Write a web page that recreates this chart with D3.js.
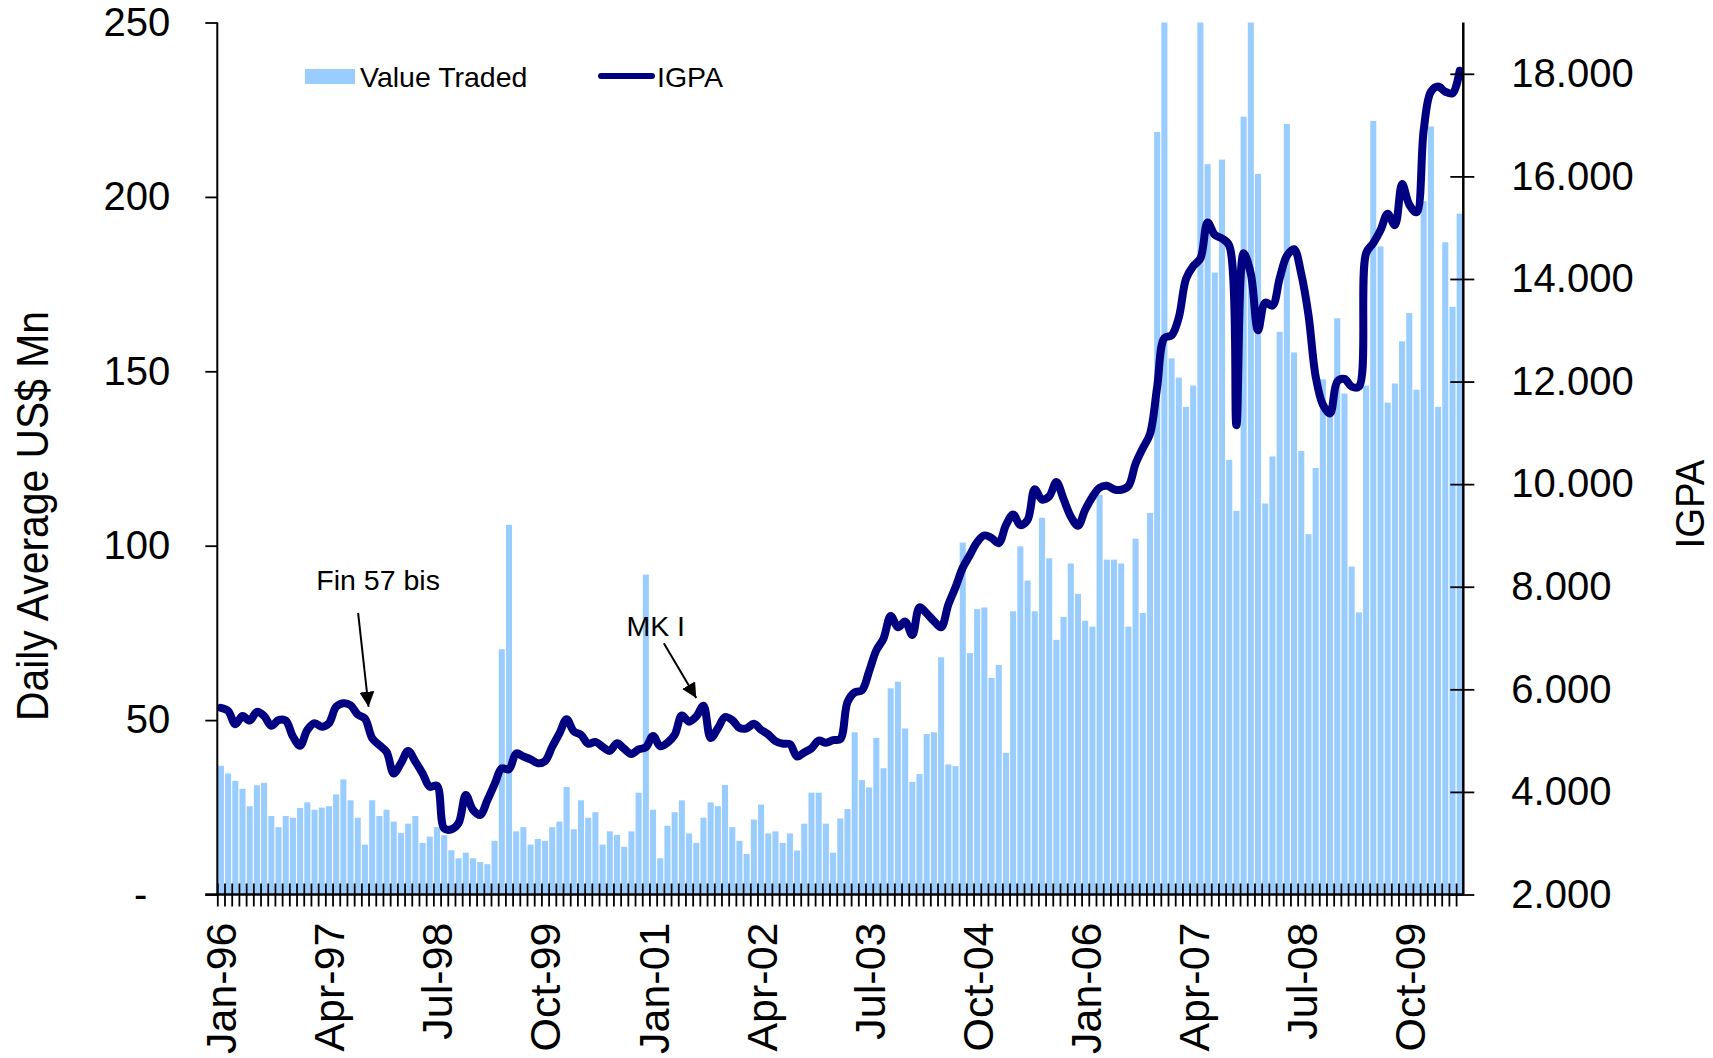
<!DOCTYPE html>
<html>
<head>
<meta charset="utf-8">
<script src="https://cdn.jsdelivr.net/npm/d3@7"></script>
<style>
  body { margin: 0; background: #fff; }
  svg { display: block; }
  text { font-family: "Liberation Sans", Arial, sans-serif; fill: #000; }
</style>
</head>
<body>
<div id="chart"></div>
<script>
// Monthly data, Jan-96 .. May-10
const startMonth = new Date(1996, 0, 1);
const monthCount = 173;
const xTickLabels = ['Jan-96', 'Apr-97', 'Jul-98', 'Oct-99', 'Jan-01', 'Apr-02',
                     'Jul-03', 'Oct-04', 'Jan-06', 'Apr-07', 'Jul-08', 'Oct-09'];
const leftTicks = [0, 50, 100, 150, 200, 250];
const rightTicks = [2000, 4000, 6000, 8000, 10000, 12000, 14000, 16000, 18000];

// Daily average value traded, US$ Mn
const valueTraded = [
  36.9, 34.7, 32.6, 30.3, 25.3, 31.3, 32.0, 22.5, 19.3, 22.5,
  22.0, 24.8, 26.4, 24.3, 24.9, 25.3, 28.7, 33.0, 27.0, 22.0,
  14.3, 27.0, 22.5, 24.3, 20.9, 17.6, 20.3, 22.5, 14.8, 16.6,
  19.3, 17.0, 12.7, 10.4, 12.0, 10.4, 9.3, 8.7, 15.4, 70.3,
  106.0, 18.1, 19.3, 14.3, 15.9, 15.4, 19.3, 20.9, 30.8, 18.7,
  27.0, 22.0, 23.6, 14.3, 18.1, 17.1, 13.7, 18.1, 29.2, 91.7,
  24.3, 10.4, 19.7, 23.6, 27.0, 17.5, 14.8, 22.0, 26.4, 25.3,
  31.4, 19.3, 15.4, 11.6, 21.5, 25.8, 17.5, 18.1, 14.8, 17.5,
  12.6, 20.3, 29.2, 29.2, 20.3, 12.0, 21.8, 24.5, 46.5, 32.8,
  30.7, 44.9, 36.2, 59.1, 61.0, 47.6, 32.3, 34.5, 46.0, 46.5,
  68.0, 37.3, 36.8, 100.9, 69.2, 81.8, 82.3, 62.1, 65.8, 40.6,
  81.2, 99.8, 90.0, 81.2, 108.0, 96.4, 73.0, 79.6, 94.9, 86.2,
  78.5, 76.8, 114.6, 96.0, 96.0, 94.9, 76.8, 102.0, 80.7, 109.4,
  218.6, 270.0, 153.7, 148.2, 139.8, 145.9, 265.0, 209.4, 178.3, 210.7,
  124.6, 110.0, 223.0, 262.0, 206.6, 112.1, 125.6, 161.3, 220.9, 155.4,
  127.2, 103.3, 122.3, 147.7, 138.7, 165.2, 143.6, 94.0, 80.9, 145.9,
  221.8, 185.8, 141.0, 146.5, 158.6, 166.7, 144.7, 198.8, 220.2, 139.8,
  187.0, 168.5, 195.2
];

// IGPA index level
const igpa = [
  5640, 5580, 5320, 5480, 5390, 5560, 5480, 5290, 5400, 5390,
  5080, 4900, 5210, 5340, 5270, 5340, 5660, 5730, 5690, 5510,
  5430, 5050, 4910, 4780, 4360, 4560, 4800, 4590, 4360, 4100,
  4120, 3290, 3270, 3390, 3940, 3650, 3550, 3840, 4150, 4460,
  4440, 4750, 4690, 4635, 4560, 4600, 4880, 5140, 5415, 5180,
  5110, 4940, 4975, 4880, 4800, 4950, 4840, 4740, 4830, 4870,
  5090, 4890, 4960, 5110, 5490, 5370, 5470, 5680, 5050, 5240,
  5460, 5400, 5250, 5240, 5330, 5210, 5120, 4990, 4940, 4930,
  4690, 4770, 4850, 5000, 4960, 5010, 5030, 5750, 5940, 5980,
  6350, 6760, 6990, 7430, 7210, 7320, 7060, 7600, 7480, 7330,
  7210, 7650, 7990, 8370, 8620, 8870, 9000, 8950, 8850, 9200,
  9410, 9200, 9300, 9900, 9700, 9760, 10040, 9710, 9370, 9190,
  9500, 9750, 9930, 9970, 9900, 9890, 9960, 10400, 10700, 10980,
  11900, 12850, 12900, 13250, 14000, 14250, 14400, 15100, 14860, 14790,
  14650, 11150, 14500, 14100, 13000, 13540, 13480, 14010, 14450, 14580,
  14100, 13300, 12100, 11550, 11380, 12000, 12050, 11900, 11900, 14500,
  14700, 14950, 15270, 15050, 15850, 15450, 15300, 16900, 17650, 17750,
  17650, 17620, 18060
];

// annotations, in (month index, IGPA) units
const notes = [
  { text: 'Fin 57 bis', tx: 13.75, ty: 7940, from: [19.55, 7490], to: [21.0, 5660] },
  { text: 'MK I', tx: 56.8, ty: 7040, from: [62.0, 6900], to: [66.5, 5830] }
];

const W = 1713, H = 1058;
const plot = { left: 217.3, right: 1463.3, top: 22.5, bottom: 894.5 };

const months = d3.timeMonth.range(startMonth, d3.timeMonth.offset(startMonth, monthCount));
const fmtMonth = d3.timeFormat('%b-%y');
const dotLocale = d3.formatLocale({ decimal: ',', thousands: '.', grouping: [3], currency: ['$', ''] });
const fmtRight = dotLocale.format(',');

const svg = d3.select('#chart').append('svg')
    .attr('width', W)
    .attr('height', H);

const x = d3.scaleBand()
    .domain(d3.range(monthCount))
    .range([plot.left, plot.right])
    .paddingInner(0.16)
    .paddingOuter(0.08);
const step = x.step();
const xc = i => plot.left + step * (i + 0.5);   // category centre, allows fractional index
const xEdge = d3.scaleLinear().domain([0, monthCount]).range([plot.left, plot.right]);

const yL = d3.scaleLinear().domain([0, 250]).range([plot.bottom, plot.top]);
const yR = d3.scaleLinear().domain([2000, 19000]).range([plot.bottom, plot.top]);

svg.append('clipPath').attr('id', 'plot-clip')
    .append('rect')
    .attr('x', plot.left).attr('y', plot.top)
    .attr('width', plot.right - plot.left)
    .attr('height', plot.bottom - plot.top);

// bars
svg.append('g')
    .attr('clip-path', 'url(#plot-clip)')
    .selectAll('rect')
    .data(valueTraded)
    .join('rect')
    .attr('x', (d, i) => x(i))
    .attr('y', d => yL(d))
    .attr('width', x.bandwidth())
    .attr('height', d => yL(0) - yL(d))
    .attr('fill', '#99ccff');

// IGPA line
const line = d3.line()
    .x((d, i) => xc(i))
    .y(d => yR(d))
    .curve(d3.curveCatmullRom);

svg.append('path')
    .datum(igpa)
    .attr('d', line)
    .attr('fill', 'none')
    .attr('stroke', '#000080')
    .attr('stroke-width', 8)
    .attr('stroke-linejoin', 'round')
    .attr('stroke-linecap', 'round');

// left axis
const gLeft = svg.append('g')
    .attr('transform', `translate(${plot.left},0)`)
    .call(d3.axisLeft(yL).tickValues(leftTicks).tickSize(12).tickPadding(35)
        .tickFormat(d => d === 0 ? '-' : d));
gLeft.select('.domain').remove();
gLeft.selectAll('line').attr('stroke', '#000').attr('stroke-width', 1.8);
gLeft.selectAll('text')
    .attr('font-size', 40)
    .attr('font-family', '"Liberation Sans", Arial, sans-serif')
    .attr('dx', d => d === 0 ? -23 : 0);

// right axis, ticks cross the line
const gRight = svg.append('g')
    .attr('transform', `translate(${plot.right},0)`)
    .call(d3.axisRight(yR).tickValues(rightTicks).tickSize(11).tickPadding(37)
        .tickFormat(fmtRight));
gRight.select('.domain').remove();
gRight.selectAll('line').attr('x1', -13).attr('stroke', '#000').attr('stroke-width', 1.8);
gRight.selectAll('text')
    .attr('font-size', 40)
    .attr('font-family', '"Liberation Sans", Arial, sans-serif');

// bottom axis: a tick at every month boundary, crossing the line
const gBottom = svg.append('g')
    .attr('transform', `translate(0,${plot.bottom})`)
    .call(d3.axisBottom(xEdge).tickValues(d3.range(monthCount)).tickSize(12).tickFormat(''));
gBottom.select('.domain').remove();
gBottom.selectAll('line').attr('y1', -11).attr('stroke', '#000').attr('stroke-width', 1.8);

// axis lines
svg.append('line')
    .attr('x1', plot.left).attr('x2', plot.left)
    .attr('y1', plot.top).attr('y2', plot.bottom)
    .attr('stroke', '#000').attr('stroke-width', 2);
svg.append('line')
    .attr('x1', plot.right).attr('x2', plot.right)
    .attr('y1', plot.top).attr('y2', plot.bottom)
    .attr('stroke', '#000').attr('stroke-width', 2.5);
svg.append('line')
    .attr('x1', plot.left - 12).attr('x2', plot.right)
    .attr('y1', plot.bottom).attr('y2', plot.bottom)
    .attr('stroke', '#000').attr('stroke-width', 2.5);

// month labels, rotated
months.forEach((m, i) => {
    const label = fmtMonth(m);
    if (!xTickLabels.includes(label)) return;
    svg.append('text')
        .attr('transform', `translate(${xc(i)},${plot.bottom + 28}) rotate(-90)`)
        .attr('text-anchor', 'end')
        .attr('dy', '0.36em')
        .attr('font-size', 43)
        .text(label);
});

// axis titles
svg.append('text')
    .attr('transform', 'translate(48,516) rotate(-90)')
    .attr('text-anchor', 'middle')
    .attr('font-size', 44)
    .attr('textLength', 410)
    .attr('lengthAdjust', 'spacingAndGlyphs')
    .text('Daily Average US$ Mn');

svg.append('text')
    .attr('transform', 'translate(1704,504) rotate(-90)')
    .attr('text-anchor', 'middle')
    .attr('font-size', 41)
    .attr('textLength', 89)
    .attr('lengthAdjust', 'spacingAndGlyphs')
    .text('IGPA');

// legend
const legend = svg.append('g');
legend.append('rect')
    .attr('x', 305).attr('y', 69).attr('width', 50).attr('height', 15)
    .attr('fill', '#99ccff');
legend.append('text')
    .attr('x', 360).attr('y', 87).attr('font-size', 28.5)
    .text('Value Traded');
legend.append('line')
    .attr('x1', 601).attr('x2', 652).attr('y1', 76).attr('y2', 76)
    .attr('stroke', '#000080').attr('stroke-width', 6).attr('stroke-linecap', 'round');
legend.append('text')
    .attr('x', 657).attr('y', 87).attr('font-size', 28.5)
    .text('IGPA');

// annotations with arrows
svg.append('defs').append('marker')
    .attr('id', 'arrow')
    .attr('viewBox', '0 0 10 10')
    .attr('refX', 10).attr('refY', 5)
    .attr('markerWidth', 15).attr('markerHeight', 15)
    .attr('markerUnits', 'userSpaceOnUse')
    .attr('orient', 'auto')
    .append('path')
    .attr('d', 'M0,0 L10,5 L0,10 Z')
    .attr('fill', '#000');

notes.forEach(n => {
    svg.append('text')
        .attr('x', xc(n.tx - 0.5)).attr('y', yR(n.ty))
        .attr('font-size', 28.5)
        .text(n.text);
    svg.append('line')
        .attr('x1', xc(n.from[0] - 0.5)).attr('y1', yR(n.from[1]))
        .attr('x2', xc(n.to[0] - 0.5)).attr('y2', yR(n.to[1]))
        .attr('stroke', '#000').attr('stroke-width', 2)
        .attr('marker-end', 'url(#arrow)');
});
</script>
</body>
</html>
